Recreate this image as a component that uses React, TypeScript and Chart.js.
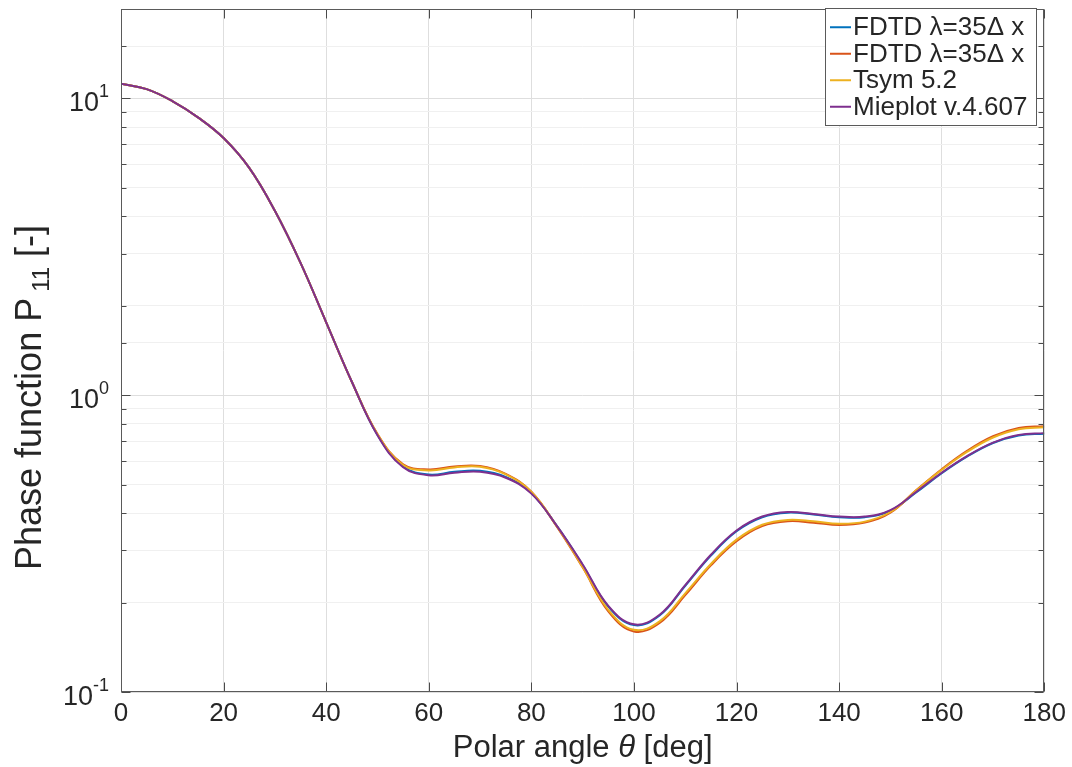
import React, { useEffect, useRef } from 'react';
import { Chart, registerables } from 'chart.js';

Chart.register(...registerables);

const FONT = "'Liberation Sans', Arial, Helvetica, sans-serif";

// Polar angle samples (deg)
const angles = [0, 5, 10, 15, 20, 25, 30, 35, 40, 45, 50, 55, 60, 65, 70, 75, 80, 85, 90, 95, 100, 105, 110, 115, 120, 125, 130, 135, 140, 145, 150, 155, 160, 165, 170, 175, 180];

const fdtdBlue = [11.2, 10.74, 9.79, 8.63, 7.35, 5.83, 4.18, 2.79, 1.76, 1.11, 0.735, 0.575, 0.54, 0.552, 0.556, 0.53, 0.468, 0.362, 0.268, 0.194, 0.168, 0.181, 0.228, 0.288, 0.348, 0.388, 0.402, 0.396, 0.388, 0.388, 0.408, 0.47, 0.546, 0.622, 0.69, 0.732, 0.742];
const fdtdRed = [11.2, 10.74, 9.79, 8.63, 7.35, 5.83, 4.18, 2.79, 1.76, 1.11, 0.74, 0.585, 0.562, 0.575, 0.577, 0.543, 0.473, 0.36, 0.263, 0.187, 0.16, 0.171, 0.212, 0.267, 0.322, 0.362, 0.376, 0.372, 0.365, 0.372, 0.402, 0.478, 0.563, 0.65, 0.727, 0.775, 0.786];
const tsym = [11.2, 10.74, 9.79, 8.63, 7.35, 5.83, 4.18, 2.79, 1.76, 1.11, 0.738, 0.582, 0.558, 0.571, 0.574, 0.541, 0.472, 0.361, 0.264, 0.189, 0.162, 0.173, 0.215, 0.27, 0.326, 0.366, 0.38, 0.376, 0.369, 0.375, 0.404, 0.477, 0.56, 0.645, 0.72, 0.768, 0.779];
const mieplot = [11.2, 10.74, 9.79, 8.63, 7.35, 5.83, 4.18, 2.79, 1.76, 1.11, 0.733, 0.572, 0.537, 0.548, 0.552, 0.527, 0.466, 0.362, 0.269, 0.195, 0.169, 0.182, 0.229, 0.29, 0.35, 0.39, 0.404, 0.398, 0.39, 0.39, 0.41, 0.472, 0.548, 0.624, 0.692, 0.735, 0.745];

const seriesLabels = ['FDTD λ=35Δ x', 'FDTD λ=35Δ x', 'Tsym 5.2', 'Mieplot v.4.607'];
const seriesColors = ['#0072BD', '#D95319', '#EDB120', '#7E2F8E'];
const seriesValues = [fdtdBlue, fdtdRed, tsym, mieplot];

const xTicks = [0, 20, 40, 60, 80, 100, 120, 140, 160, 180];
const yMajorTicks = [0.1, 1, 10];
const yTickExponents = ['-1', '0', '1'];

const xTitle = ['Polar angle ', 'θ', ' [deg]'];
const yTitle = ['Phase function P', '11', ' [-]'];

const isPow10 = (v: number) => {
  const l = Math.log10(v);
  return Math.abs(l - Math.round(l)) < 1e-6;
};

const decorPlugin = {
  id: 'matlabDecor',
  afterDatasetsDraw(chart: any) {
    const { ctx, chartArea: a, scales } = chart;
    const xs = scales.x;
    const ys = scales.y;
    const L = Math.round(a.left) + 0.5;
    const R = Math.round(a.right) - 0.5;
    const T = Math.round(a.top) + 0.5;
    const B = Math.round(a.bottom) - 0.5;
    ctx.save();

    // inward ticks
    ctx.strokeStyle = '#4a4a4a';
    ctx.lineWidth = 1;
    ctx.beginPath();
    xTicks.forEach((v) => {
      const px = Math.round(xs.getPixelForValue(v)) + 0.5;
      ctx.moveTo(px, B);
      ctx.lineTo(px, B - 9);
      ctx.moveTo(px, T);
      ctx.lineTo(px, T + 9);
    });
    ys.ticks.forEach((t: any) => {
      const py = Math.round(ys.getPixelForValue(t.value)) + 0.5;
      const len = isPow10(t.value) ? 9 : 5;
      ctx.moveTo(L, py);
      ctx.lineTo(L + len, py);
      ctx.moveTo(R, py);
      ctx.lineTo(R - len, py);
    });
    ctx.stroke();

    // box
    ctx.strokeStyle = '#5a5a5a';
    ctx.strokeRect(L, T, R - L, B - T);

    // y tick labels 10^n
    ctx.fillStyle = '#262626';
    ctx.textBaseline = 'alphabetic';
    yMajorTicks.forEach((v, i) => {
      const py = ys.getPixelForValue(v);
      const right = 109;
      ctx.font = `18px ${FONT}`;
      const ew = ctx.measureText(yTickExponents[i]).width;
      ctx.textAlign = 'left';
      ctx.fillText(yTickExponents[i], right - ew, py - 1);
      ctx.font = `27px ${FONT}`;
      ctx.textAlign = 'right';
      ctx.fillText('10', right - ew, py + 13);
    });

    // x title
    ctx.textAlign = 'left';
    const xf = `31px ${FONT}`;
    const xfi = `italic 31px ${FONT}`;
    ctx.font = xf;
    const w0 = ctx.measureText(xTitle[0]).width;
    const w2 = ctx.measureText(xTitle[2]).width;
    ctx.font = xfi;
    const w1 = ctx.measureText(xTitle[1]).width;
    const cx = (a.left + a.right) / 2;
    const sx = cx - (w0 + w1 + w2) / 2;
    const by = 757;
    ctx.font = xf;
    ctx.fillText(xTitle[0], sx, by);
    ctx.font = xfi;
    ctx.fillText(xTitle[1], sx + w0, by);
    ctx.font = xf;
    ctx.fillText(xTitle[2], sx + w0 + w1, by);

    // y title (rotated)
    ctx.save();
    ctx.translate(41, 570);
    ctx.rotate(-Math.PI / 2);
    const yf = `36px ${FONT}`;
    const ysub = `24px ${FONT}`;
    ctx.font = yf;
    ctx.fillText(yTitle[0], 0, 0);
    const p0 = ctx.measureText(yTitle[0]).width + 6;
    ctx.font = ysub;
    ctx.fillText(yTitle[1], p0, 8);
    const p1 = p0 + ctx.measureText(yTitle[1]).width;
    ctx.font = yf;
    ctx.fillText(yTitle[2], p1, 0);
    ctx.restore();

    // legend
    const lx0 = 825, ly0 = 8, lx1 = 1037, ly1 = 126;
    ctx.fillStyle = '#ffffff';
    ctx.fillRect(lx0, ly0, lx1 - lx0, ly1 - ly0);
    ctx.strokeStyle = '#5a5a5a';
    ctx.lineWidth = 1;
    ctx.strokeRect(lx0 + 0.5, ly0 + 0.5, lx1 - lx0 - 1, ly1 - ly0 - 1);
    const rowH = 26.5;
    const firstY = ly0 + (ly1 - ly0 - 4 * rowH) / 2 + rowH / 2;
    ctx.font = `26px ${FONT}`;
    ctx.textBaseline = 'middle';
    seriesLabels.forEach((lab, i) => {
      const y = firstY + i * rowH;
      ctx.strokeStyle = seriesColors[i];
      ctx.lineWidth = 2;
      ctx.beginPath();
      ctx.moveTo(830, y);
      ctx.lineTo(851, y);
      ctx.stroke();
      ctx.fillStyle = '#262626';
      ctx.fillText(lab, 853, y + 1);
    });

    ctx.restore();
  },
};

export default function App() {
  const canvasRef = useRef<HTMLCanvasElement | null>(null);

  useEffect(() => {
    const canvas = canvasRef.current;
    if (!canvas) return;
    const datasets = seriesValues.map((vals, i) => ({
      label: seriesLabels[i],
      data: angles.map((a, j) => ({ x: a, y: vals[j] })),
      borderColor: seriesColors[i],
      backgroundColor: seriesColors[i],
      borderWidth: 2,
      pointRadius: 0,
      fill: false,
      tension: 0.4,
      order: seriesValues.length - 1 - i,
    }));
    const chart = new Chart(canvas, {
      type: 'line',
      data: { datasets },
      options: {
        animation: false,
        responsive: true,
        maintainAspectRatio: false,
        layout: { padding: { left: 0, right: 27, top: 9, bottom: 0 } },
        plugins: { legend: { display: false }, tooltip: { enabled: false } },
        scales: {
          x: {
            type: 'linear',
            min: 0,
            max: 180,
            afterFit: (s: any) => { s.height = 75; },
            afterBuildTicks: (s: any) => { s.ticks = xTicks.map((v) => ({ value: v })); },
            border: { display: false },
            grid: { color: '#dedede', drawTicks: false, lineWidth: 1 },
            ticks: {
              padding: 6,
              color: '#262626',
              font: { family: FONT, size: 26 },
              maxRotation: 0,
              autoSkip: false,
            },
          },
          y: {
            type: 'logarithmic',
            min: 0.1,
            max: 20,
            afterFit: (s: any) => { s.width = 121; },
            border: { display: false },
            grid: {
              drawTicks: false,
              lineWidth: 1,
              color: (c: any) => (c.tick && isPow10(c.tick.value) ? '#dedede' : '#f0f0f0'),
            },
            ticks: { display: false, autoSkip: false },
          },
        },
      },
      plugins: [decorPlugin],
    });
    return () => chart.destroy();
  }, []);

  return (
    <div style={{ position: 'fixed', left: 0, top: 0, width: 1072, height: 767, background: '#fff' }}>
      <canvas ref={canvasRef} />
    </div>
  );
}
